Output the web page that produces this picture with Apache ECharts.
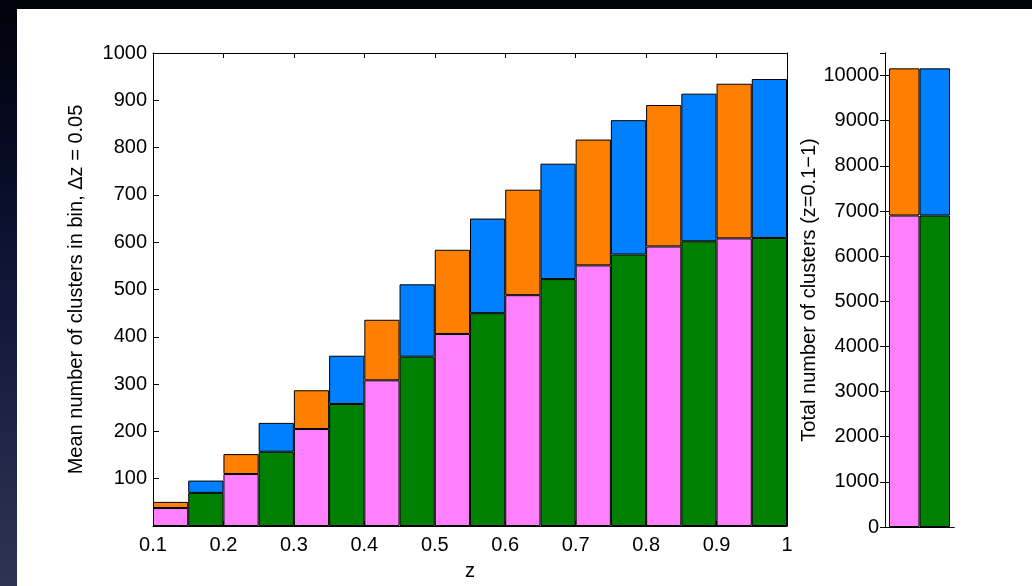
<!DOCTYPE html>
<html>
<head>
<meta charset="utf-8">
<script src="https://cdn.jsdelivr.net/npm/echarts@6/dist/echarts.min.js"></script>
<style>
  html, body { margin: 0; padding: 0; width: 1032px; height: 586px; overflow: hidden; background: #01020a; }
  #bgstrip { position: absolute; left: 0; top: 0; width: 17px; height: 586px;
    background: linear-gradient(to bottom, #01020a 0%, #060a22 25%, #121a3c 55%, #222a4a 80%, #2c3452 100%); }
  #panel { position: absolute; left: 17px; top: 9px; width: 1015px; height: 577px; background: #ffffff; }
  #chart { position: absolute; left: 0; top: 0; width: 1032px; height: 586px; }
</style>
</head>
<body>
<div id="bgstrip"></div>
<div id="panel"></div>
<div id="chart"></div>
<script>
// ---- data ----
const zBinStart = ['0.10','0.15','0.20','0.25','0.30','0.35','0.40','0.45','0.50','0.55','0.60','0.65','0.70','0.75','0.80','0.85','0.90','0.95'];
const lowerCounts = [38, 70, 110, 157, 205, 258, 308, 358, 406, 450, 488, 522, 551, 574, 591, 602, 608, 609];
const totalCounts = [51, 96, 152, 218, 287, 360, 436, 511, 584, 650, 711, 766, 817, 858, 890, 914, 935, 945];
const sumCategories = ['A', 'B'];
const sumLower = [6900, 6900];
const sumTotal = [10160, 10160];

const PINK = '#ff80ff', ORANGE = '#ff8000', GREEN = '#008000', BLUE = '#0080ff';
const FONT = '"Liberation Sans", Arial, Helvetica, sans-serif';
const lowerColor = i => (i % 2 === 0 ? PINK : GREEN);
const upperColor = i => (i % 2 === 0 ? ORANGE : BLUE);
const plain = v => String(+(+v).toFixed(2));

const axisLine = { show: true, lineStyle: { color: '#000', width: 1 } };
const labelStyle = { color: '#000', fontSize: 20, fontFamily: FONT, formatter: plain };
const nameStyle = { color: '#000', fontSize: 20, fontFamily: FONT };
const barBorder = { borderColor: '#000', borderWidth: 1 };
const tick = len => ({ show: true, inside: true, length: len, lineStyle: { color: '#000' } });

const chart = echarts.init(document.getElementById('chart'), null, { renderer: 'canvas' });

const option = {
  backgroundColor: 'transparent',
  animation: false,
  grid: [
    { left: 153, top: 53, width: 634, height: 473 },   // main histogram
    { left: 885, top: 53, width: 69, height: 474 },    // totals box
    { left: 889, top: 53, width: 61, height: 474 }     // totals bars
  ],
  xAxis: [
    { gridIndex: 0, type: 'category', data: zBinStart, position: 'bottom', show: false, boundaryGap: true },
    { gridIndex: 0, type: 'value', min: 0.1, max: 1, interval: 0.1, position: 'bottom',
      axisLine: axisLine, splitLine: { show: false }, axisTick: tick(5),
      axisLabel: Object.assign({}, labelStyle, { margin: 9 }),
      name: 'z', nameLocation: 'middle', nameGap: 35, nameTextStyle: nameStyle },
    { gridIndex: 0, type: 'value', min: 0.1, max: 1, interval: 0.1, position: 'top',
      axisLine: axisLine, splitLine: { show: false }, axisTick: tick(5), axisLabel: { show: false } },
    { gridIndex: 1, type: 'value', min: 0, max: 1, position: 'bottom',
      axisLine: axisLine, splitLine: { show: false }, axisTick: { show: false }, axisLabel: { show: false } },
    { gridIndex: 1, type: 'value', min: 0, max: 1, position: 'top',
      axisLine: axisLine, splitLine: { show: false }, axisTick: { show: false }, axisLabel: { show: false } },
    { gridIndex: 2, type: 'category', data: sumCategories, show: false, boundaryGap: true }
  ],
  yAxis: [
    { gridIndex: 0, type: 'value', min: 0, max: 1000, interval: 100, position: 'left',
      axisLine: axisLine, splitLine: { show: false }, axisTick: tick(6),
      axisLabel: Object.assign({}, labelStyle, { margin: 6, showMinLabel: false }),
      name: 'Mean number of clusters in bin, \u0394z = 0.05', nameLocation: 'middle', nameGap: 67, nameRotate: 90,
      nameTextStyle: nameStyle },
    { gridIndex: 0, type: 'value', min: 0, max: 1000, interval: 100, position: 'right',
      axisLine: axisLine, splitLine: { show: false }, axisTick: tick(6), axisLabel: { show: false } },
    { gridIndex: 1, type: 'value', min: 0, max: 10500, interval: 1000, position: 'left',
      axisLine: axisLine, splitLine: { show: false }, axisTick: tick(5),
      axisLabel: Object.assign({}, labelStyle, { margin: 6, showMaxLabel: false }),
      name: 'Total number of clusters (z=0.1\u22121)', nameLocation: 'middle', nameGap: 55, nameRotate: 90,
      nameTextStyle: nameStyle },
    { gridIndex: 1, type: 'value', min: 0, max: 10500, interval: 1000, position: 'right',
      axisLine: axisLine, splitLine: { show: false }, axisTick: tick(5), axisLabel: { show: false } },
    { gridIndex: 2, type: 'value', min: 0, max: 10500, show: false }
  ],
  series: [
    { type: 'bar', xAxisIndex: 0, yAxisIndex: 0, stack: 'bins', barCategoryGap: '0%', z: 3,
      itemStyle: barBorder,
      data: lowerCounts.map((v, i) => ({ value: v, itemStyle: { color: lowerColor(i) } })) },
    { type: 'bar', xAxisIndex: 0, yAxisIndex: 0, stack: 'bins', barCategoryGap: '0%', z: 3,
      itemStyle: barBorder,
      data: totalCounts.map((t, i) => ({ value: t - lowerCounts[i], itemStyle: { color: upperColor(i) } })) },
    { type: 'bar', xAxisIndex: 5, yAxisIndex: 4, stack: 'sum', barCategoryGap: '0%', z: 3,
      itemStyle: barBorder,
      data: sumLower.map((v, i) => ({ value: v, itemStyle: { color: lowerColor(i) } })) },
    { type: 'bar', xAxisIndex: 5, yAxisIndex: 4, stack: 'sum', barCategoryGap: '0%', z: 3,
      itemStyle: barBorder,
      data: sumTotal.map((t, i) => ({ value: t - sumLower[i], itemStyle: { color: upperColor(i) } })) }
  ]
};
chart.setOption(option);
</script>
</body>
</html>
